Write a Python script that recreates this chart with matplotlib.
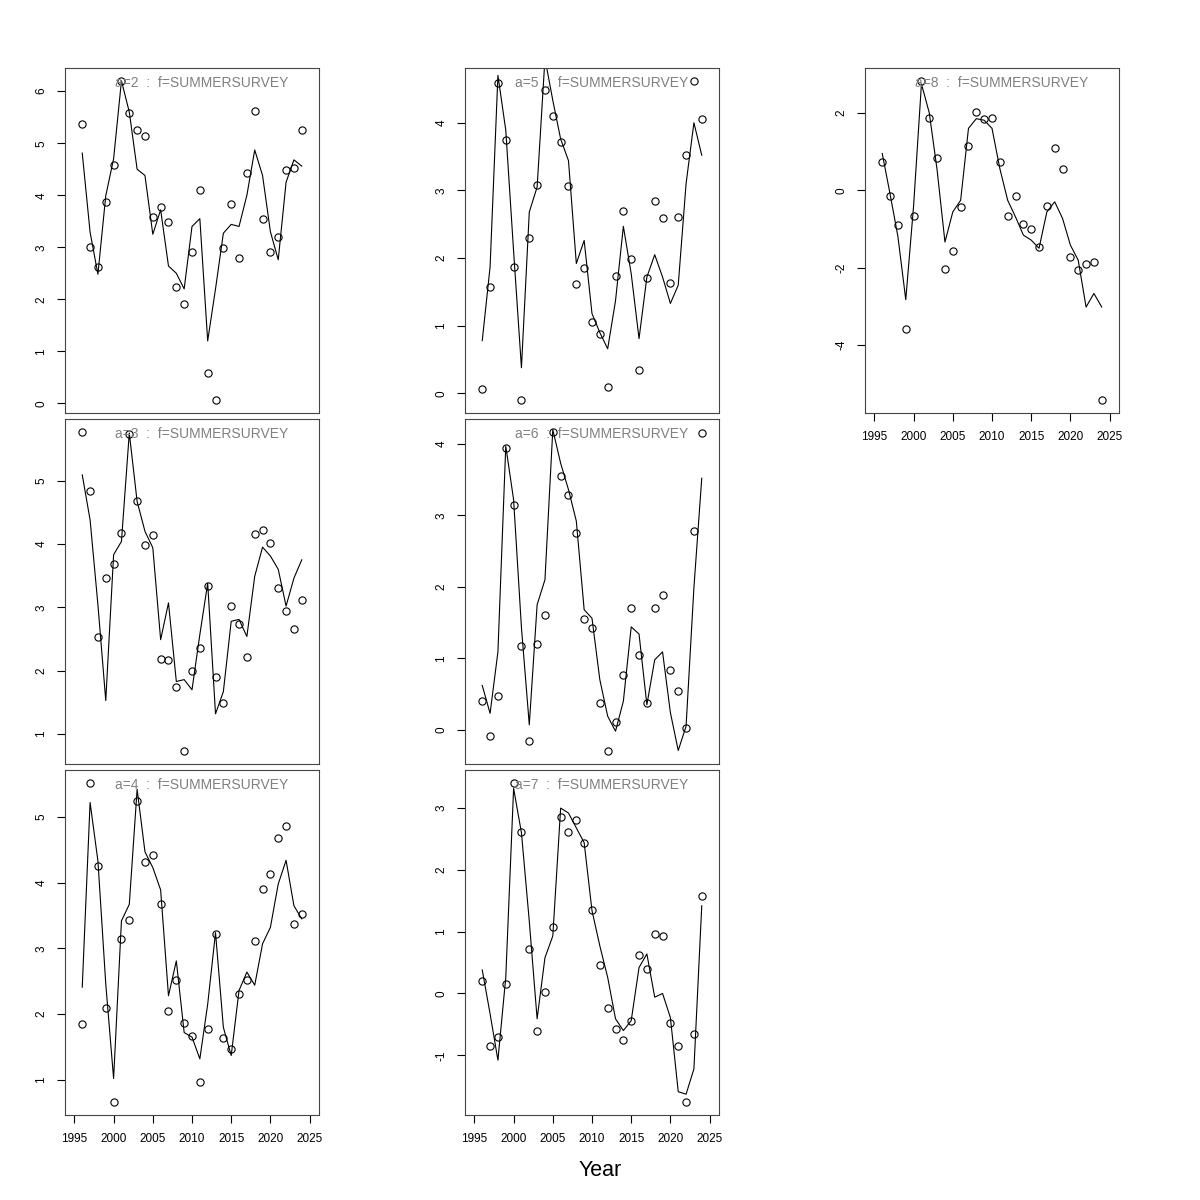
import numpy as np
import matplotlib.pyplot as plt

plt.rcParams['font.family'] = ['Liberation Sans', 'DejaVu Sans']

### Data ###
years = list(range(1996, 2025))

obs_a2 = [5.37, 3.01, 2.62, 3.87, 4.58, 6.20, 5.59, 5.25, 5.13, 3.58, 3.77, 3.49, 2.24, 1.90, 2.90,
          4.10, 0.58, 0.06, 2.99, 3.84, 2.80, 4.43, 5.61, 3.54, 2.90, 3.20, 4.49, 4.53, 5.25]
fit_a2 = [4.81, 3.29, 2.48, 3.99, 4.70, 6.20, 5.60, 4.50, 4.38, 3.25, 3.72, 2.64, 2.50, 2.20, 3.40,
          3.55, 1.20, 2.20, 3.27, 3.44, 3.40, 4.00, 4.87, 4.38, 3.30, 2.76, 4.25, 4.68, 4.56]

obs_a3 = [5.77, 4.83, 2.53, 3.46, 3.68, 4.18, 5.74, 4.67, 3.98, 4.14, 2.19, 2.17, 1.74, 0.73, 1.99,
          2.36, 3.34, 1.90, 1.49, 3.02, 2.74, 2.21, 4.16, 4.22, 4.02, 3.31, 2.94, 2.66, 3.12]
fit_a3 = [5.09, 4.38, 3.04, 1.53, 3.83, 4.04, 5.75, 4.67, 4.20, 3.94, 2.49, 3.07, 1.83, 1.86, 1.70,
          2.57, 3.38, 1.32, 1.67, 2.78, 2.81, 2.54, 3.49, 3.95, 3.81, 3.60, 3.02, 3.46, 3.75]

obs_a4 = [1.85, 5.52, 4.25, 2.09, 0.66, 3.14, 3.43, 5.24, 4.32, 4.42, 3.68, 2.05, 2.52, 1.87, 1.67,
          0.97, 1.77, 3.22, 1.64, 1.47, 2.30, 2.52, 3.12, 3.90, 4.13, 4.68, 4.87, 3.37, 3.52]
fit_a4 = [2.41, 5.22, 4.33, 2.46, 1.02, 3.42, 3.67, 5.42, 4.47, 4.23, 3.89, 2.28, 2.81, 1.72, 1.65,
          1.32, 2.15, 3.24, 1.80, 1.37, 2.36, 2.64, 2.44, 3.07, 3.32, 3.98, 4.34, 3.65, 3.45]

obs_a5 = [0.06, 1.58, 4.58, 3.75, 1.87, -0.10, 2.29, 3.08, 4.49, 4.10, 3.71, 3.07, 1.61, 1.85, 1.05,
          0.88, 0.10, 1.73, 2.69, 1.98, 0.35, 1.71, 2.84, 2.59, 1.63, 2.60, 3.53, 4.62, 4.05]
fit_a5 = [0.78, 1.87, 4.70, 3.89, 2.10, 0.38, 2.68, 3.05, 4.95, 4.33, 3.76, 3.44, 1.92, 2.26, 1.18,
          0.90, 0.66, 1.37, 2.47, 1.77, 0.81, 1.72, 2.05, 1.72, 1.33, 1.60, 3.10, 4.00, 3.52]

obs_a6 = [0.40, -0.09, 0.47, 3.94, 3.15, 1.17, -0.16, 1.20, 1.61, 4.17, 3.55, 3.29, 2.76, 1.55, 1.42,
          0.38, -0.30, 0.11, 0.76, 1.70, 1.04, 0.38, 1.71, 1.89, 0.84, 0.54, 0.03, 2.78, 4.15]
fit_a6 = [0.62, 0.23, 1.09, 3.97, 3.22, 1.43, 0.07, 1.75, 2.10, 4.20, 3.73, 3.36, 2.92, 1.68, 1.56,
          0.70, 0.19, -0.02, 0.40, 1.44, 1.34, 0.35, 0.98, 1.09, 0.24, -0.29, 0.05, 1.99, 3.52]

obs_a7 = [0.20, -0.85, -0.71, 0.15, 3.41, 2.61, 0.72, -0.60, 0.03, 1.08, 2.86, 2.62, 2.80, 2.44, 1.35,
          0.46, -0.23, -0.58, -0.76, -0.45, 0.63, 0.40, 0.96, 0.93, -0.47, -0.85, -1.76, -0.65, 1.57]
fit_a7 = [0.38, -0.33, -1.08, 0.26, 3.32, 2.60, 1.17, -0.41, 0.58, 0.93, 3.00, 2.92, 2.68, 2.44, 1.34,
          0.77, 0.26, -0.41, -0.60, -0.44, 0.42, 0.64, -0.06, 0.00, -0.39, -1.59, -1.63, -1.22, 1.42]

obs_a8 = [0.74, -0.14, -0.90, -3.58, -0.66, 2.83, 1.88, 0.84, -2.03, -1.56, -0.44, 1.14, 2.01, 1.85, 1.88,
          0.73, -0.66, -0.14, -0.88, -1.01, -1.48, -0.41, 1.08, 0.56, -1.73, -2.06, -1.91, -1.85, -5.43]
fit_a8 = [0.95, -0.10, -1.20, -2.83, -0.40, 2.75, 2.00, 0.52, -1.34, -0.56, -0.26, 1.60, 1.85, 1.81, 1.60,
          0.56, -0.26, -0.69, -1.16, -1.29, -1.50, -0.56, -0.30, -0.73, -1.42, -1.81, -3.02, -2.67, -3.02]

x_ticks = [1995, 2000, 2005, 2010, 2015, 2020, 2025]

# (label, obs, fit, y ticks, column, row, draw x axis)
panels = [
    ('a=2', obs_a2, fit_a2, [0, 1, 2, 3, 4, 5, 6], 0, 0, False),
    ('a=3', obs_a3, fit_a3, [1, 2, 3, 4, 5], 0, 1, False),
    ('a=4', obs_a4, fit_a4, [1, 2, 3, 4, 5], 0, 2, True),
    ('a=5', obs_a5, fit_a5, [0, 1, 2, 3, 4], 1, 0, False),
    ('a=6', obs_a6, fit_a6, [0, 1, 2, 3, 4], 1, 1, False),
    ('a=7', obs_a7, fit_a7, [-1, 0, 1, 2, 3], 1, 2, True),
    ('a=8', obs_a8, fit_a8, [-4, -2, 0, 2], 2, 0, True),
]

col_left = [65, 465, 865]
row_top = [68, 419, 770]
W, H = 254, 345

fig = plt.figure(figsize=(12, 12), dpi=100)

for label, obs, fit, yt, c, r, xaxis in panels:
    ax = fig.add_axes([col_left[c] / 1200, 1 - (row_top[r] + H) / 1200, W / 1200, H / 1200])
    ax.plot(years, obs, 'o', mfc='none', mec='black', ms=5.2, mew=0.8)
    ax.plot(years, fit, '-', color='black', lw=0.8)
    # R style limits: 4% padding, y from observations only
    lo, hi = min(obs), max(obs)
    pad = 0.04 * (hi - lo)
    ax.set_ylim(lo - pad, hi + pad)
    ax.set_xlim(1995 - 1.2, 2025 + 1.2)
    ax.set_yticks(yt)
    ax.set_yticklabels([str(v) for v in yt], rotation=90, va='center')
    ax.set_xticks(x_ticks)
    if not xaxis:
        ax.tick_params(axis='x', bottom=False, labelbottom=False)
    ax.tick_params(direction='out', length=5.8, width=0.8, labelsize=8.5, colors='black')
    ax.tick_params(axis='x', pad=7.5)
    ax.tick_params(axis='y', pad=7)
    for s in ax.spines.values():
        s.set_linewidth(0.8)
        s.set_color('#444444')
    ax.text(0.537, 0.956, label + '  :  f=SUMMERSURVEY', transform=ax.transAxes,
            ha='center', va='center', fontsize=10, color='#808080')

fig.text(0.5, 1 - 1171 / 1200, 'Year', ha='center', va='center', fontsize=15.5)

fig.savefig('out.png', dpi=100)
